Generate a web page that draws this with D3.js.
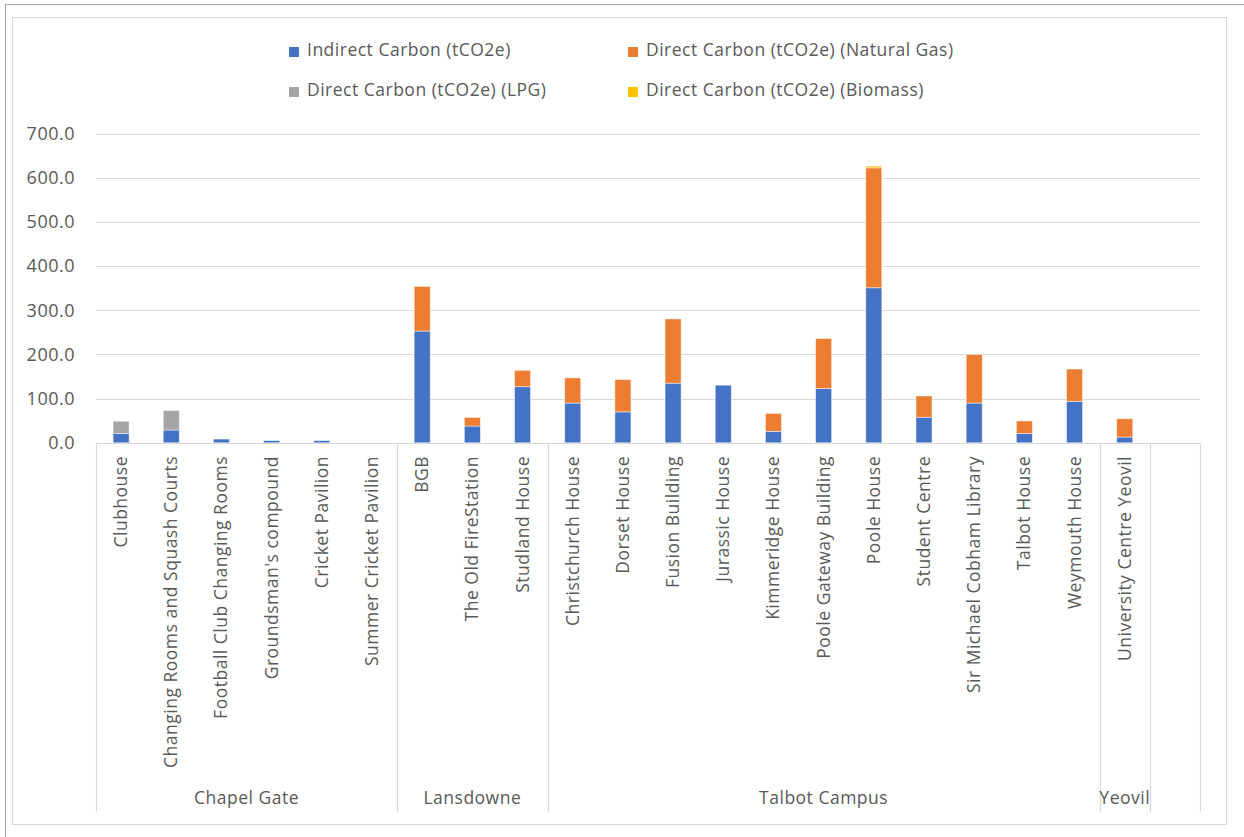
<!DOCTYPE html>
<html>
<head>
<meta charset="utf-8">
<script src="https://cdn.jsdelivr.net/npm/d3@7"></script>
<style>
  html, body { margin: 0; padding: 0; background: #fff; }
  svg { display: block; }
  text { font-family: "Open Sans", "Noto Sans", sans-serif; fill: #595959; letter-spacing: 0.5px; }
</style>
</head>
<body>
<svg id="chart" width="1244" height="837"></svg>
<script>
// Buildings (category axis) and the campus each belongs to
const buildings = [
  "Clubhouse", "Changing Rooms and Squash Courts", "Football Club Changing Rooms",
  "Groundsman's compound", "Cricket Pavilion", "Summer Cricket Pavilion",
  "BGB", "The Old FireStation", "Studland House",
  "Christchurch House", "Dorset House", "Fusion Building", "Jurassic House",
  "Kimmeridge House", "Poole Gateway Building", "Poole House", "Student Centre",
  "Sir Michael Cobham Library", "Talbot House", "Weymouth House",
  "University Centre Yeovil", ""
];
const campuses = [
  "Chapel Gate", "Chapel Gate", "Chapel Gate", "Chapel Gate", "Chapel Gate", "Chapel Gate",
  "Lansdowne", "Lansdowne", "Lansdowne",
  "Talbot Campus", "Talbot Campus", "Talbot Campus", "Talbot Campus", "Talbot Campus",
  "Talbot Campus", "Talbot Campus", "Talbot Campus", "Talbot Campus", "Talbot Campus", "Talbot Campus",
  "Yeovil", ""
];

// Emissions per building, tCO2e
const indirectCarbon = [21, 29, 8.5, 5, 5, 0, 253, 38, 127, 90, 70, 135, 130.5, 26, 123, 351, 58, 90, 21, 94, 13, 0];
const naturalGas     = [0, 0, 0, 0, 0, 0, 101, 19.5, 37, 57, 73, 145.5, 0, 40.5, 113, 271.5, 48, 110, 28.5, 73, 41.5, 0];
const lpg            = [28, 44, 0, 0, 0, 0, 0, 0, 0, 0, 0, 0, 0, 0, 0, 0, 0, 0, 0, 0, 0, 0];
const biomass        = [0, 0, 0, 0, 0, 0, 0, 0, 0, 0, 0, 0, 0, 0, 0, 4, 0, 0, 0, 0, 0, 0];

const seriesNames = [
  "Indirect Carbon (tCO2e)",
  "Direct Carbon (tCO2e) (Natural Gas)",
  "Direct Carbon (tCO2e) (LPG)",
  "Direct Carbon (tCO2e) (Biomass)"
];
const seriesColors = ["#4472C4", "#ED7D31", "#A5A5A5", "#FFC000"];
const yTicks = [0, 100, 200, 300, 400, 500, 600, 700];

const svg = d3.select("#chart");

// outer frame and chart area border
svg.append("line").attr("x1", 5).attr("y1", 4.5).attr("x2", 1244).attr("y2", 4.5)
  .attr("stroke", "#a6a6a6");
svg.append("line").attr("x1", 5.5).attr("y1", 4).attr("x2", 5.5).attr("y2", 837)
  .attr("stroke", "#a6a6a6");
svg.append("rect").attr("x", 12.5).attr("y", 17.5).attr("width", 1214).attr("height", 807)
  .attr("fill", "none").attr("stroke", "#d9d9d9");

const plot = { left: 96, right: 1200, top: 133.6, bottom: 442.8 };

const x = d3.scaleBand()
  .domain(d3.range(buildings.length))
  .range([plot.left, plot.right])
  .paddingInner(0.68)
  .paddingOuter(0.34);
const step = x.step();

const y = d3.scaleLinear().domain([0, 700]).range([plot.bottom, plot.top]);

// gridlines
svg.append("g")
  .selectAll("line")
  .data(yTicks)
  .join("line")
  .attr("x1", plot.left).attr("x2", plot.right)
  .attr("y1", d => Math.round(y(d)) + 0.5).attr("y2", d => Math.round(y(d)) + 0.5)
  .attr("stroke", "#d9d9d9").attr("stroke-width", 1.2);

// value axis labels
const yAxis = d3.axisLeft(y).tickValues(yTicks).tickFormat(d3.format(".1f")).tickSize(0).tickPadding(21);
const yg = svg.append("g").attr("transform", `translate(${plot.left},0)`).call(yAxis);
yg.select(".domain").remove();
yg.selectAll("text").attr("font-size", 18).style("fill", "#595959")
  .attr("font-family", "'Open Sans', sans-serif");

// stacked bars
const rows = buildings.map((b, i) => ({
  i, s0: indirectCarbon[i], s1: naturalGas[i], s2: lpg[i], s3: biomass[i]
}));
const stack = d3.stack().keys(["s0", "s1", "s2", "s3"]);
const layers = stack(rows);

svg.append("g")
  .selectAll("g")
  .data(layers)
  .join("g")
  .attr("fill", (d, k) => seriesColors[k])
  .selectAll("rect")
  .data(d => d.filter(p => p[1] - p[0] > 0))
  .join("rect")
  .attr("x", p => x(p.data.i))
  .attr("width", x.bandwidth())
  .attr("y", p => y(p[1]))
  .attr("height", p => y(p[0]) - y(p[1]))
  .attr("stroke", "#ffffff").attr("stroke-opacity", 0.6).attr("stroke-width", 0.8);

// category axis line and group dividers
const axisY = Math.round(plot.bottom) + 0.5;
const axisBottom = 812;
svg.append("line").attr("x1", plot.left).attr("x2", plot.right)
  .attr("y1", axisY).attr("y2", axisY).attr("stroke", "#d9d9d9").attr("stroke-width", 1.2);

// group extents built from campus list
const groups = [];
campuses.forEach((c, i) => {
  const last = groups[groups.length - 1];
  if (last && last.name === c) last.end = i;
  else groups.push({ name: c, start: i, end: i });
});
const boundaries = [plot.left].concat(groups.map(g => plot.left + (g.end + 1) * step));
svg.append("g")
  .selectAll("line")
  .data(boundaries)
  .join("line")
  .attr("x1", d => Math.round(d) + 0.5).attr("x2", d => Math.round(d) + 0.5)
  .attr("y1", axisY).attr("y2", axisBottom)
  .attr("stroke", "#d9d9d9").attr("stroke-width", 1.2);

// building labels, rotated
svg.append("g")
  .selectAll("text")
  .data(buildings)
  .join("text")
  .attr("transform", (d, i) => `translate(${x(i) + x.bandwidth() / 2 + 6},456) rotate(-90)`)
  .attr("text-anchor", "end")
  .attr("font-size", 17.5)
  .text(d => d);

// campus labels
svg.append("g")
  .selectAll("text")
  .data(groups.filter(g => g.name))
  .join("text")
  .attr("x", g => plot.left + ((g.start + g.end + 1) / 2) * step)
  .attr("y", 804)
  .attr("text-anchor", "middle")
  .attr("font-size", 17.5)
  .text(g => g.name);

// legend
const legendPos = [[289, 56], [628, 56], [289, 96], [628, 96]];
const lg = svg.append("g")
  .selectAll("g")
  .data(seriesNames)
  .join("g")
  .attr("transform", (d, k) => `translate(${legendPos[k][0]},${legendPos[k][1]})`);
lg.append("rect").attr("x", 0).attr("y", -9).attr("width", 10).attr("height", 10)
  .attr("fill", (d, k) => seriesColors[k]);
lg.append("text").attr("x", 18).attr("y", 0).attr("font-size", 17.5).text(d => d);
</script>
</body>
</html>
